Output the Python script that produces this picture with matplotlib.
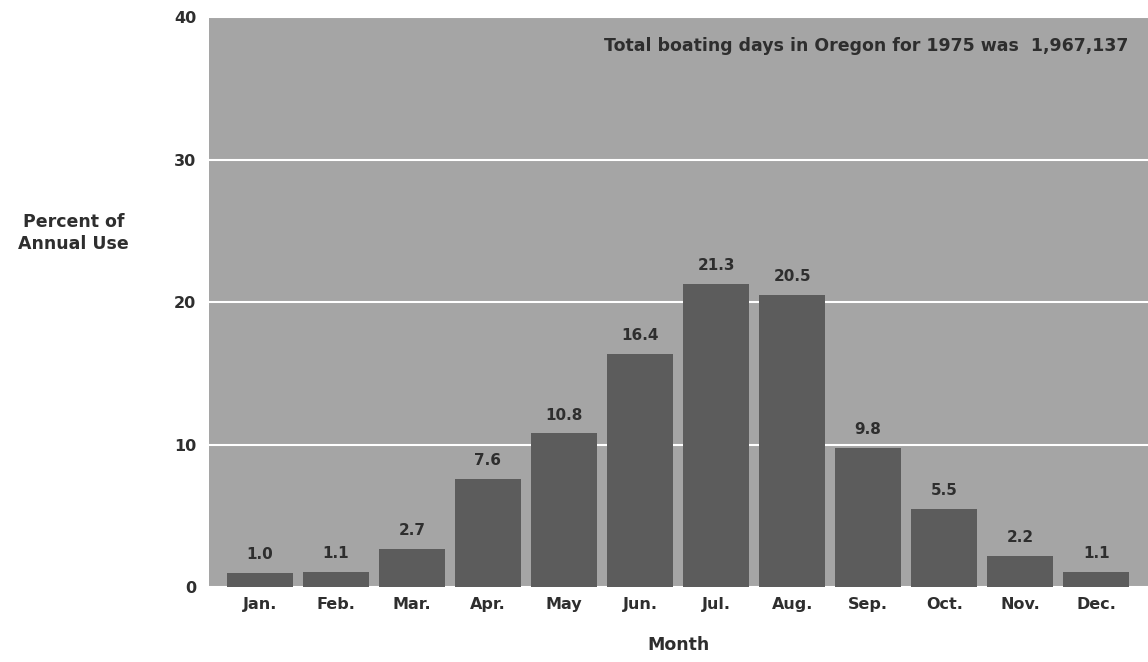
import matplotlib.pyplot as plt

# --- data ---
months = ["Jan.", "Feb.", "Mar.", "Apr.", "May", "Jun.",
          "Jul.", "Aug.", "Sep.", "Oct.", "Nov.", "Dec."]
percent = [1.0, 1.1, 2.7, 7.6, 10.8, 16.4, 21.3, 20.5, 9.8, 5.5, 2.2, 1.1]
value_labels = ["1.0", "1.1", "2.7", "7.6", "10.8", "16.4",
                "21.3", "20.5", "9.8", "5.5", "2.2", "1.1"]
y_ticks = [0, 10, 20, 30, 40]

text_col = "#2e2e2e"
bg_col = "#a5a5a5"
bar_col = "#5c5c5c"

fig = plt.figure(figsize=(11.48, 6.62), dpi=100)
ax = fig.add_axes([0.182, 0.113, 0.818, 0.861])
ax.set_facecolor(bg_col)

x = list(range(len(months)))
ax.bar(x, percent, width=0.87, color=bar_col, zorder=3)

for xi, v, lab in zip(x, percent, value_labels):
    ax.text(xi, v + 0.75, lab, ha="center", va="bottom", fontsize=11,
            fontweight="bold", color=text_col, zorder=4)

ax.set_xlim(-0.67, 11.68)
ax.set_ylim(0, 40)
ax.set_yticks(y_ticks)
ax.set_xticks(x)
ax.set_xticklabels(months)
ax.tick_params(length=0, labelsize=11.5, labelcolor=text_col)
ax.tick_params(axis="x", pad=7)
ax.tick_params(axis="y", pad=9)
for lbl in ax.get_xticklabels() + ax.get_yticklabels():
    lbl.set_fontweight("bold")

for s in ax.spines.values():
    s.set_visible(False)

ax.yaxis.grid(True, color="white", linewidth=1.5, zorder=1)
ax.set_axisbelow(True)

ax.text(0.979, 0.95, "Total boating days in Oregon for 1975 was  1,967,137",
        transform=ax.transAxes, ha="right", va="center", fontsize=12.5,
        fontweight="bold", color=text_col)

fig.text(0.064, 0.648, "Percent of\nAnnual Use", ha="center", va="center",
         fontsize=12.5, fontweight="bold", color=text_col, linespacing=1.3)
ax.set_xlabel("Month", fontsize=12.5, fontweight="bold", color=text_col,
              labelpad=17)

fig.savefig("out.png", dpi=100, facecolor="white")
